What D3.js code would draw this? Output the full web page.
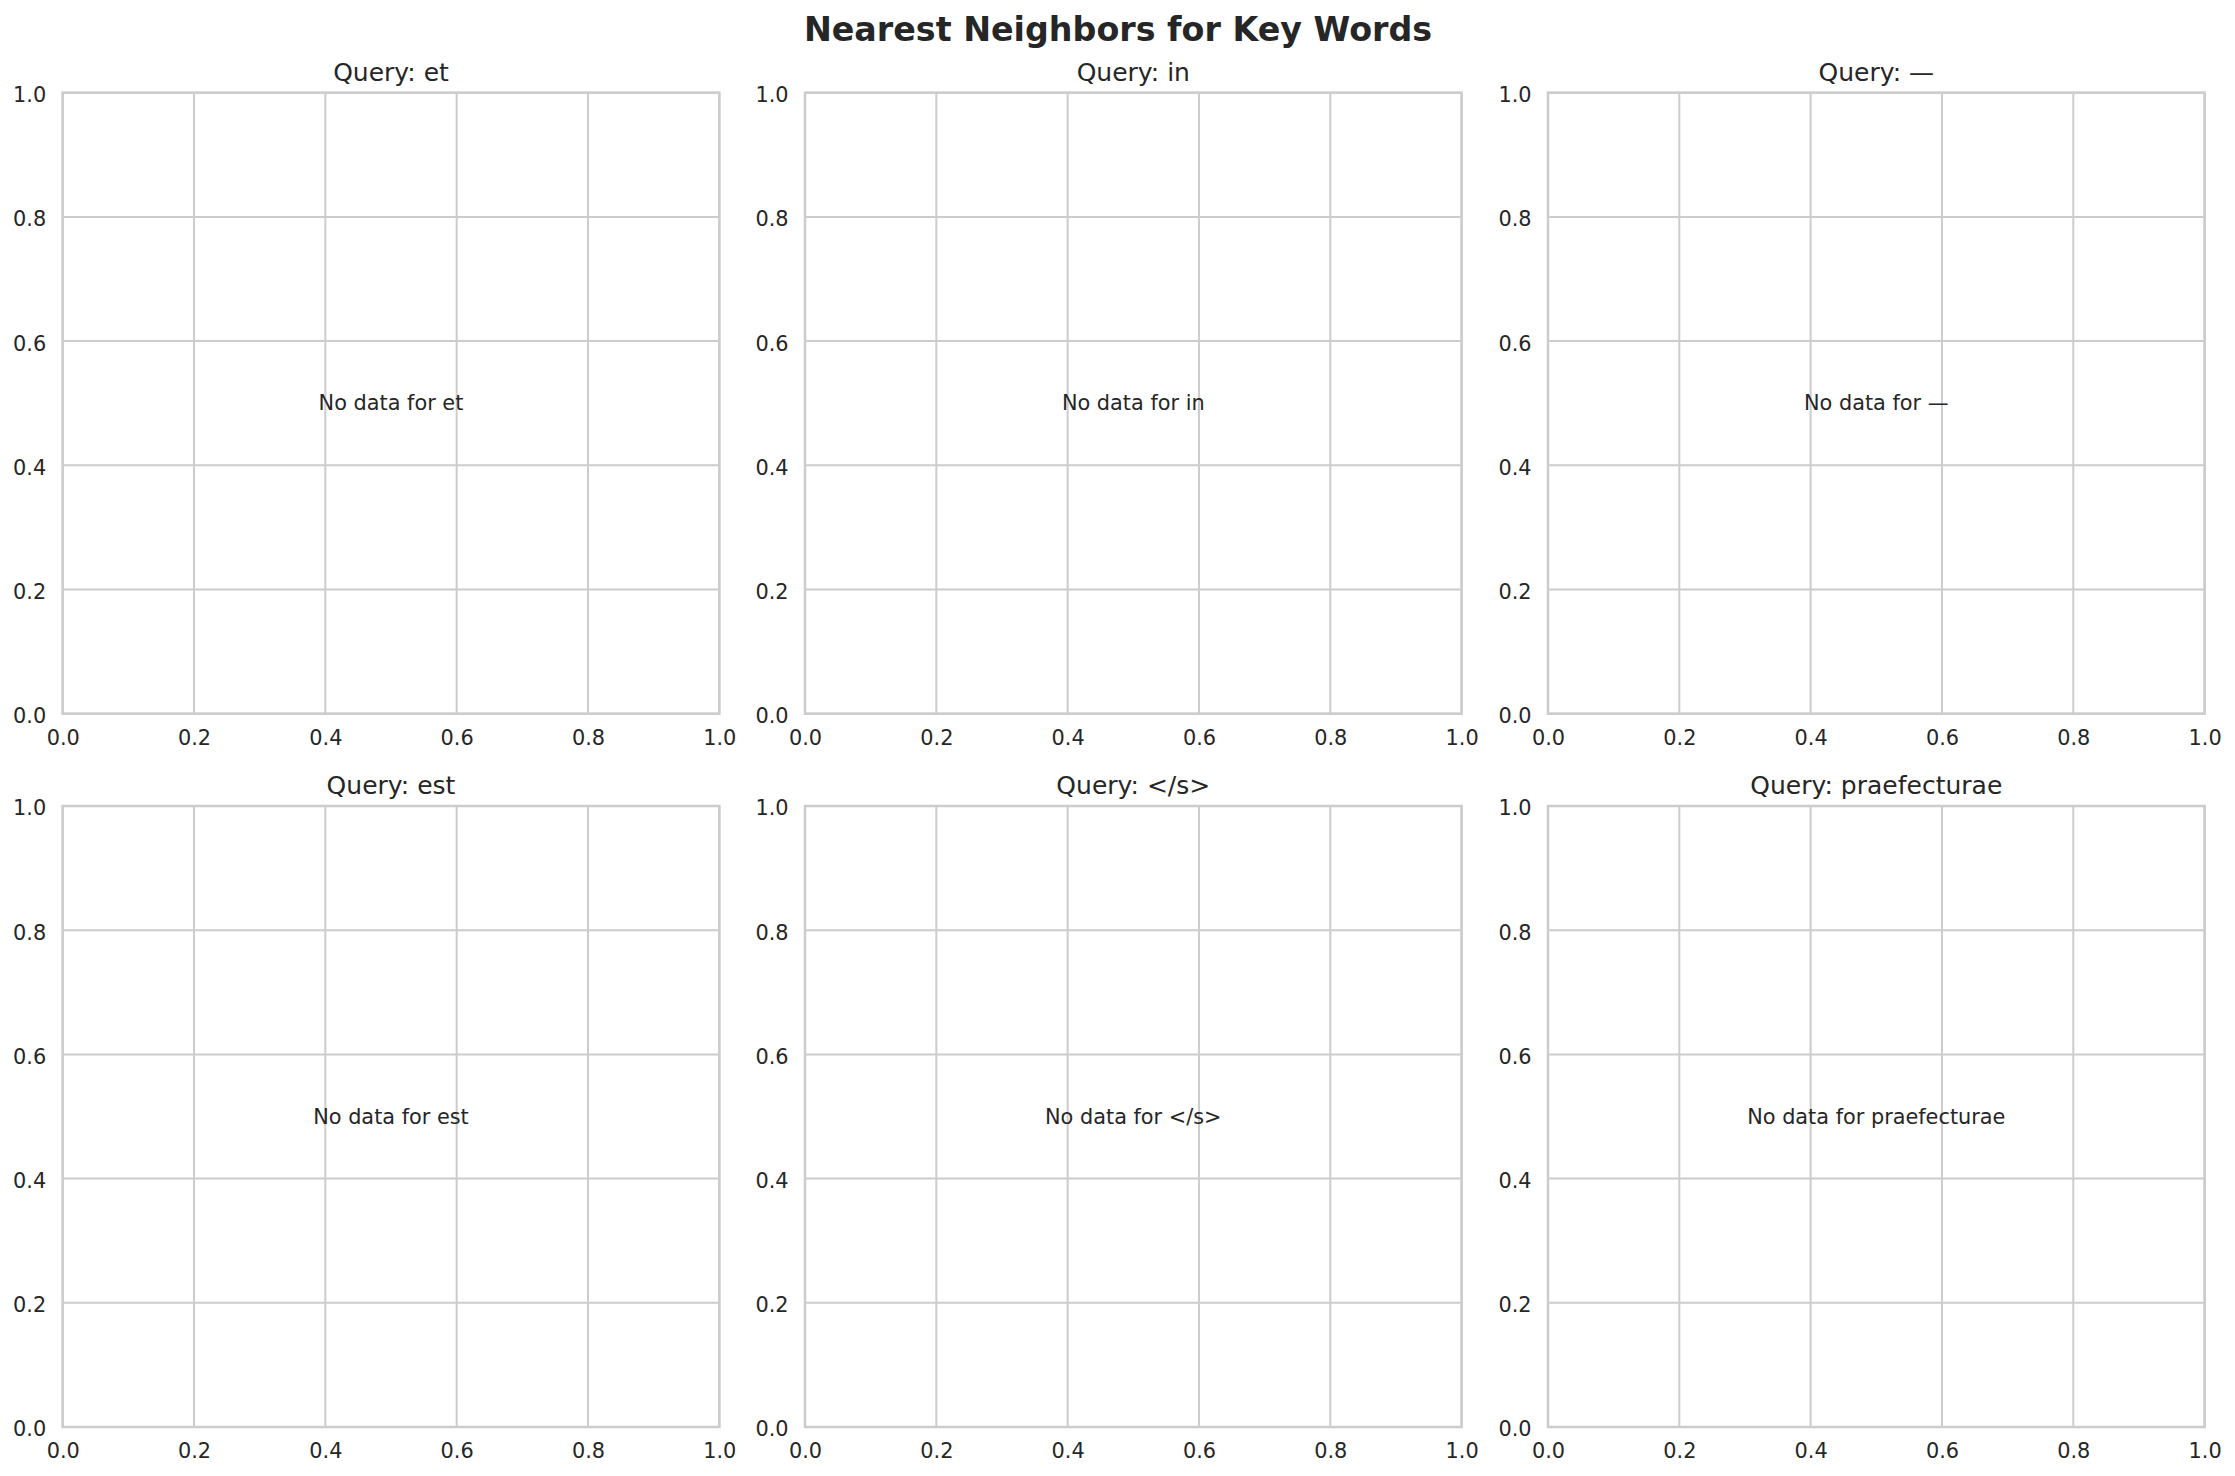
<!DOCTYPE html>
<html>
<head>
<meta charset="utf-8">
<script src="https://cdn.jsdelivr.net/npm/d3@7"></script>
<style>
  html, body { margin: 0; padding: 0; background: #ffffff; }
  svg { display: block; }
  text { font-family: "DejaVu Sans", sans-serif; fill: #262626; }
</style>
</head>
<body>
<script>
// ---- data ----
const chartTitle = "Nearest Neighbors for Key Words";
const queries = ["et", "in", "—", "est", "</s>", "praefecturae"];
// no neighbor data was available for any query
const neighborWords = [[], [], [], [], [], []];
const neighborScores = [[], [], [], [], [], []];
const xTicks = [0.0, 0.2, 0.4, 0.6, 0.8, 1.0];
const yTicks = [0.0, 0.2, 0.4, 0.6, 0.8, 1.0];
const xDomain = [0, 1];
const yDomain = [0, 1];

// ---- layout ----
const W = 2235, H = 1476;
const colLeft = [62.7, 805, 1548];
const rowTop = [92.7, 806];
const pw = 656.6, ph = 621;

const svg = d3.select("body").append("svg")
  .attr("width", W).attr("height", H)
  .attr("viewBox", `0 0 ${W} ${H}`);

svg.append("rect").attr("width", W).attr("height", H).attr("fill", "#ffffff");

svg.append("text")
  .attr("x", 1118).attr("y", 41)
  .attr("text-anchor", "middle")
  .attr("font-size", 33.3)
  .attr("font-weight", "bold")
  .text(chartTitle);

const fmt = d3.format(".1f");

queries.forEach((q, i) => {
  const col = i % 3, row = Math.floor(i / 3);
  const g = svg.append("g")
    .attr("transform", `translate(${colLeft[col]},${rowTop[row]})`);

  const x = d3.scaleLinear().domain(xDomain).range([0, pw]);
  const y = d3.scaleLinear().domain(yDomain).range([ph, 0]);

  // grid
  g.append("g").selectAll("line.gx").data(xTicks).join("line")
    .attr("x1", d => x(d)).attr("x2", d => x(d))
    .attr("y1", 0).attr("y2", ph)
    .attr("stroke", "#cccccc").attr("stroke-width", 2);
  g.append("g").selectAll("line.gy").data(yTicks).join("line")
    .attr("y1", d => y(d)).attr("y2", d => y(d))
    .attr("x1", 0).attr("x2", pw)
    .attr("stroke", "#cccccc").attr("stroke-width", 2);

  // axes
  const xa = g.append("g").attr("transform", `translate(0,${ph})`)
    .call(d3.axisBottom(x).tickValues(xTicks).tickFormat(fmt).tickSize(0).tickPadding(16.5));
  const ya = g.append("g")
    .call(d3.axisLeft(y).tickValues(yTicks).tickFormat(fmt).tickSize(0).tickPadding(16.5));
  [xa, ya].forEach(a => {
    a.select(".domain").remove();
    a.selectAll("text")
      .attr("font-size", 20.83)
      .attr("font-family", "DejaVu Sans")
      .attr("fill", "#262626");
  });
  ya.selectAll("text").attr("dy", "0.43em");

  // spines
  g.append("rect")
    .attr("x", 0).attr("y", 0).attr("width", pw).attr("height", ph)
    .attr("fill", "none").attr("stroke", "#cccccc").attr("stroke-width", 2.5);

  // points (none available)
  g.append("g").selectAll("circle")
    .data(neighborScores[i].map((s, k) => ({ s, w: neighborWords[i][k], k })))
    .join("circle")
    .attr("cx", d => x(d.s)).attr("cy", d => y(d.k))
    .attr("r", 5).attr("fill", "#4c72b0");

  // subplot title
  g.append("text")
    .attr("x", pw / 2).attr("y", -12)
    .attr("text-anchor", "middle")
    .attr("font-size", 25)
    .text("Query: " + q);

  // empty message
  if (neighborScores[i].length === 0) {
    g.append("text")
      .attr("x", x(0.5)).attr("y", y(0.5) + 7)
      .attr("text-anchor", "middle")
      .attr("font-size", 20.83)
      .text("No data for " + q);
  }
});
</script>
</body>
</html>
